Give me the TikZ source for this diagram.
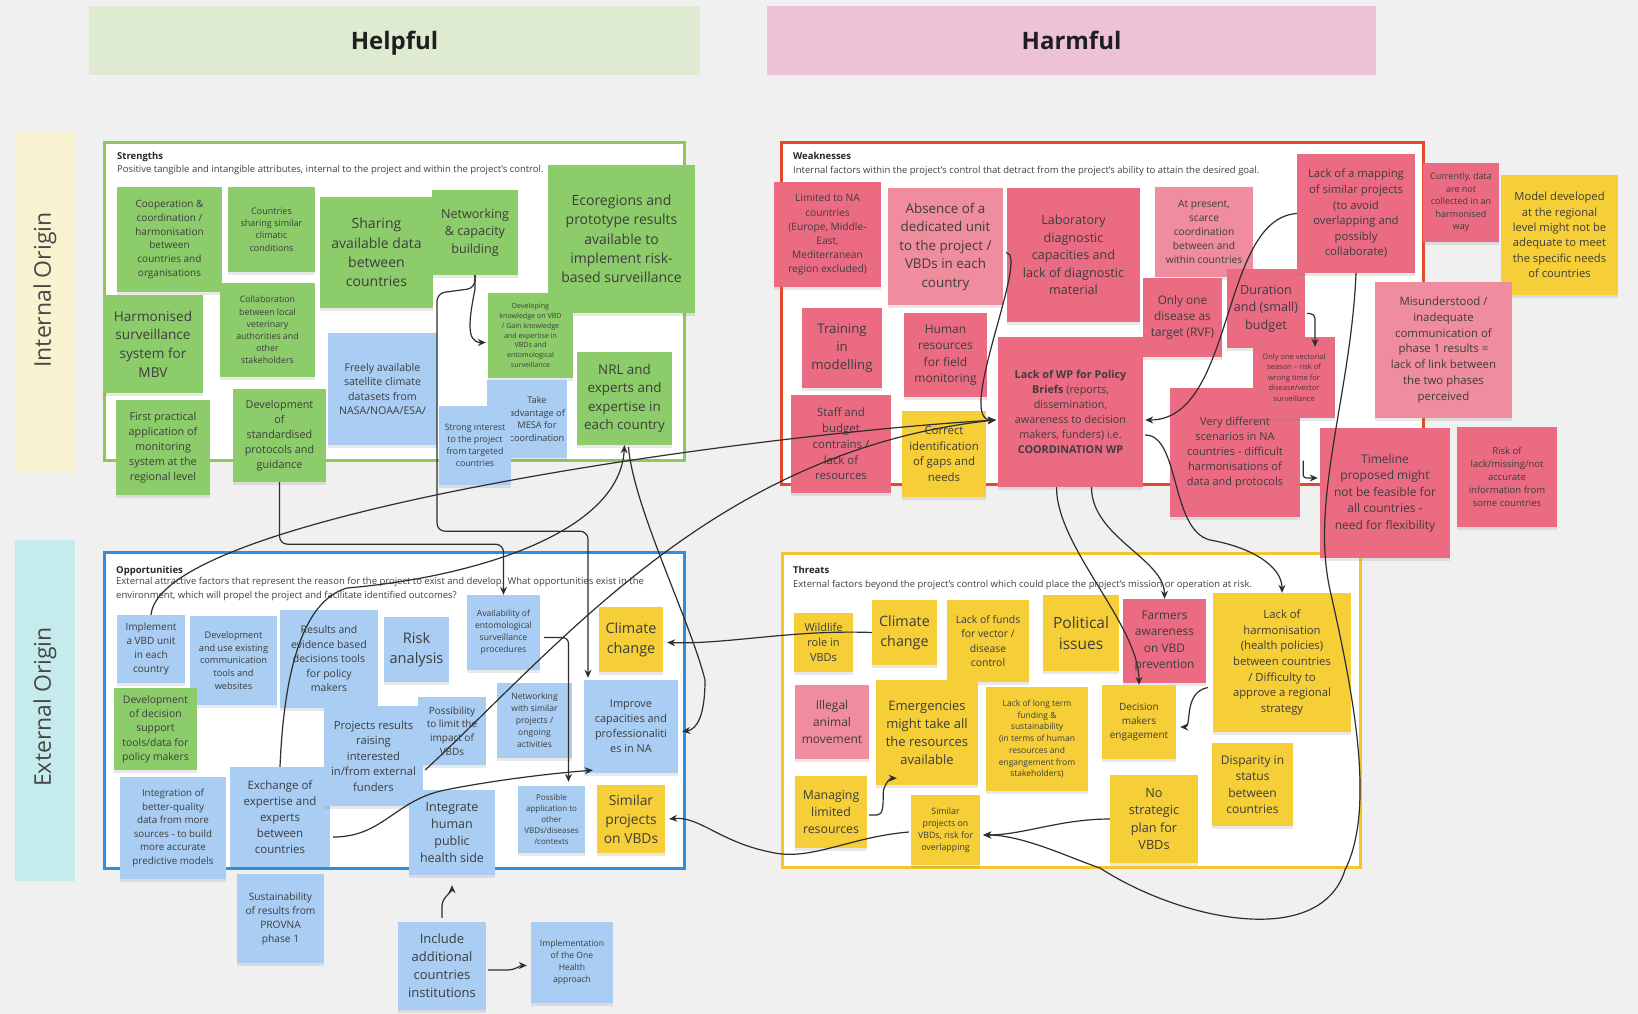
\documentclass[tikz,border=0pt]{standalone}
\usepackage{fontspec}
\setmainfont{Open Sans}
\usetikzlibrary{arrows.meta,calc,shadows}

\definecolor{bgc}{HTML}{F0F0F0}
\definecolor{hgreen}{HTML}{DEEBD0}
\definecolor{hpink}{HTML}{EDC2D6}
\definecolor{bandyel}{HTML}{F7F3D1}
\definecolor{bandcyan}{HTML}{C6EBEC}
\definecolor{frgreen}{HTML}{8DC85A}
\definecolor{frred}{HTML}{E4482D}
\definecolor{frblue}{HTML}{2E8EE0}
\definecolor{fryel}{HTML}{F3C62E}
\definecolor{ngreen}{HTML}{8DCC6A}
\definecolor{nblue}{HTML}{A9CDF3}
\definecolor{npink}{HTML}{EA6B82}
\definecolor{nlpink}{HTML}{EF8C9D}
\definecolor{nyel}{HTML}{F5CE38}
\definecolor{ntext}{HTML}{3D3D3D}
\definecolor{lnc}{HTML}{2E2E2E}

\tikzset{
  slot/.style n args={4}{minimum width=#3, minimum height=#4, at={({#1+#3/2},{#2+#4/2})}},
  fz/.code={\pgfmathsetmacro\fzskip{1.38*#1}%
    \edef\fznext{\noexpand\pgfkeysalso{font=\noexpand\fontsize{#1}{\fzskip}\noexpand\selectfont}}\fznext},
  sticky/.style={inner sep=1pt, align=center, text=ntext,
    drop shadow={shadow xshift=0pt, shadow yshift=-3pt, opacity=0.18}},
  gnote/.style={sticky, fill=ngreen},
  bnote/.style={sticky, fill=nblue},
  pnote/.style={sticky, fill=npink},
  lnote/.style={sticky, fill=nlpink},
  ynote/.style={sticky, fill=nyel},
  hdr/.style={inner sep=0pt, text height=19pt, text depth=1pt, text=black!88, font=\fontsize{24}{28}\selectfont\bfseries},
  orig/.style={inner sep=0pt, text=black!72, font=\fontsize{23}{27}\selectfont},
  frm/.style={line width=3pt, fill=white, inner sep=0pt},
  ttl/.style={anchor=base west, inner sep=0pt, text=black!85, font=\fontsize{9.5}{11}\selectfont\bfseries},
  dsc/.style={anchor=base west, inner sep=0pt, align=left, text=black!75, font=\fontsize{9.5}{13.5}\selectfont},
  link/.style={->, draw=lnc, line width=1.2pt},
}

\begin{document}
\begin{tikzpicture}[x=1pt, y=-1pt, >={Stealth[length=8pt,width=7pt]}]
\fill[bgc] (0,0) rectangle (1638,1014);
\useasboundingbox (0,0) rectangle (1638,1014);

\node[hdr, fill=hgreen, slot={89}{6}{611}{69}] (helpful) {Helpful};
\node[hdr, fill=hpink, slot={767}{6}{609}{69}] (harmful) {Harmful};
\node[fill=bandyel, inner sep=0pt, slot={15}{131}{60}{341}] (intband) {};
\node[fill=bandcyan, inner sep=0pt, slot={15}{540}{60}{341}] (extband) {};
\node[orig, rotate=90] (intlbl) at (45,290) {Internal Origin};
\node[orig, rotate=90] (extlbl) at (45,707) {External Origin};

\node[frm, draw=frgreen, slot={104}{143}{580}{317}] (fS) {};
\node[ttl] (tS) at (117,159.5) {Strengths};
\node[dsc] (dS) at (117,172) {Positive tangible and intangible attributes, internal to the project and within the project's control.};
\node[frm, draw=frred, slot={781}{143}{642}{341}] (fW) {};
\node[ttl] (tW) at (793,160) {Weaknesses};
\node[dsc] (dW) at (793,173.5) {Internal factors within the project's control that detract from the project's ability to attain the desired goal.};
\node[frm, draw=frblue, slot={104}{552}{580}{316}] (fO) {};
\node[ttl] (tO) at (116,573) {Opportunities};
\node[dsc, anchor=north west] (dO) at (116,577.5) {External attractive factors that represent the reason for the project to exist and develop. What opportunities exist in the\\environment, which will propel the project and facilitate identified outcomes?};
\node[frm, draw=fryel, slot={782}{553}{578}{314}] (fT) {};
\node[ttl] (tT) at (793,573) {Threats};
\node[dsc] (dT) at (793,587) {External factors beyond the project's control which could place the project's mission or operation at risk.};

\node[gnote, fz=10, slot={117}{187}{105}{105}] (s1) {Cooperation \&\\coordination /\\harmonisation\\between\\countries and\\organisations};
\node[gnote, fz=9, slot={228}{187}{87}{85}] (s2) {Countries\\sharing similar\\climatic\\conditions};
\node[gnote, fz=14, slot={320}{197}{113}{111}] (s3) {Sharing\\available data\\between\\countries};
\node[gnote, fz=13.6, slot={103}{295}{100}{98}] (s4) {Harmonised\\surveillance\\system for\\MBV};
\node[gnote, fz=8.8, slot={220}{283}{95}{94}] (s5) {Collaboration\\between local\\veterinary\\authorities and\\other\\stakeholders};
\node[bnote, fz=10.6, slot={328}{333}{109}{112}] (s6) {Freely available\\satellite climate\\datasets from\\NASA/NOAA/ESA/};
\node[gnote, fz=10.8, slot={116}{400}{94}{95}] (s7) {First practical\\application of\\monitoring\\system at the\\regional level};
\node[gnote, fz=10.8, slot={233}{389}{93}{93}] (s8) {Development\\of\\standardised\\protocols and\\guidance};
\node[gnote, fz=12.6, slot={432}{190}{86}{85}] (s9) {Networking\\\& capacity\\building};
\node[gnote, fz=14, slot={548}{165}{147}{148}] (s10) {Ecoregions and\\prototype results\\available to\\implement risk-\\based surveillance};
\node[gnote, fz=7.1, slot={488}{293}{85}{85}] (s11) {Developing\\knowledge on VBD\\/ Gain knowledge\\and expertise in\\VBDs and\\entomological\\surveillance};
\node[bnote, slot={487}{380}{80}{78}] (s12) {};
\node[fz=9.2, text=ntext, align=center, inner sep=0pt] (s12txt) at ($(s12.center)+(10,0)$) {Take\\advantage of\\MESA for\\coordination};
\node[bnote, fz=8.8, slot={439}{406}{72}{79}] (s13) {Strong interest\\to the project\\from targeted\\countries};
\node[gnote, fz=13.4, slot={577}{352}{95}{93}] (s14) {NRL and\\experts and\\expertise in\\each country};

\node[pnote, fz=10.2, slot={774}{182}{107}{105}] (w1) {Limited to NA\\countries\\(Europe, Middle-\\East,\\Mediterranean\\region excluded)};
\node[lnote, fz=13.4, slot={888}{188}{115}{117}] (w2) {Absence of a\\dedicated unit\\to the project /\\VBDs in each\\country};
\node[pnote, fz=12.6, slot={1007}{188}{133}{134}] (w3) {Laboratory\\diagnostic\\capacities and\\lack of diagnostic\\material};
\node[pnote, fz=13.2, slot={802}{308}{80}{80}] (w4) {Training\\in\\modelling};
\node[pnote, fz=12, slot={904}{313}{83}{84}] (w5) {Human\\resources\\for field\\monitoring};
\node[pnote, fz=11.4, slot={791}{395}{100}{98}] (w6) {Staff and\\budget\\contrains /\\lack of\\resources};
\node[ynote, fz=11.4, slot={902}{411}{84}{86}] (w7) {Correct\\identification\\of gaps and\\needs};
\node[pnote, fz=10.8, slot={998}{337}{145}{150}] (w8) {\textbf{Lack of WP for Policy}\\\textbf{Briefs} (reports,\\dissemination,\\awareness to decision\\makers, funders) i.e.\\\textbf{COORDINATION WP}};
\node[lnote, fz=10.2, slot={1155}{187}{98}{90}] (w9) {At present,\\scarce\\coordination\\between and\\within countries};
\node[pnote, fz=11.8, slot={1143}{278}{79}{79}] (w13) {Only one\\disease as\\target (RVF)};
\node[pnote, fz=12.6, slot={1227}{269}{78}{79}] (w14) {Duration\\and (small)\\budget};
\node[pnote, fz=11.3, slot={1297}{154}{118}{119}] (w10) {Lack of a mapping\\of similar projects\\(to avoid\\overlapping and\\possibly\\collaborate)};
\node[pnote, fz=9, slot={1423}{163}{76}{79}] (w11) {Currently, data\\are not\\collected in an\\harmonised\\way};
\node[ynote, fz=11.2, slot={1501}{175}{117}{120}] (w12) {Model developed\\at the regional\\level might not be\\adequate to meet\\the specific needs\\of countries};
\node[pnote, fz=11, slot={1170}{388}{130}{129}] (w16) {Very different\\scenarios in NA\\countries - difficult\\harmonisations of\\data and protocols};
\node[pnote, fz=7.5, slot={1253}{337}{82}{81}] (w15) {Only one vectorial\\season -- risk of\\wrong time for\\disease/vector\\surveillance};
\node[lnote, fz=11.4, slot={1375}{282}{137}{136}] (w17) {Misunderstood /\\inadequate\\communication of\\phase 1 results =\\lack of link between\\the two phases\\perceived};
\node[pnote, fz=12, slot={1320}{428}{130}{130}] (w18) {Timeline\\proposed might\\not be feasible for\\all countries -\\need for flexibility};
\node[pnote, fz=9.5, slot={1457}{427}{100}{100}] (w19) {Risk of\\lack/missing/not\\accurate\\information from\\some countries};

\node[bnote, fz=10, slot={117}{615}{68}{68}] (o1) {Implement\\a VBD unit\\in each\\country};
\node[bnote, fz=9.2, slot={190}{616}{87}{89}] (o2) {Development\\and use existing\\communication\\tools and\\websites};
\node[bnote, fz=10.5, slot={280}{610}{98}{98}] (o3) {Results and\\evidence based\\decisions tools\\for policy\\makers};
\node[bnote, fz=14.6, slot={384}{617}{65}{65}] (o4) {Risk\\analysis};
\node[gnote, fz=10.4, slot={114}{688}{83}{82}] (o5) {Development\\of decision\\support\\tools/data for\\policy makers};
\node[bnote, fz=10, slot={418}{697}{68}{68}] (o10) {Possibility\\to limit the\\impact of\\VBDs};
\node[bnote, fz=11.5, slot={230}{767}{100}{100}] (o7) {Exchange of\\expertise and\\experts\\between\\countries};
\node[bnote, fz=11.2, slot={324}{706}{99}{100}] (o6) {Projects results\\raising\\interested\\in/from external\\funders};
\node[bnote, fz=9.8, slot={120}{777}{106}{102}] (o8) {Integration of\\better-quality\\data from more\\sources - to build\\more accurate\\predictive models};
\node[bnote, fz=8.6, slot={467}{595}{73}{75}] (o11) {Availability of\\entomological\\surveillance\\procedures};
\node[ynote, fz=14.4, slot={599}{607}{64}{65}] (o12) {Climate\\change};
\node[bnote, fz=8.6, slot={497}{683}{75}{75}] (o13) {Networking\\with similar\\projects /\\ongoing\\activities};
\node[bnote, fz=10.9, slot={584}{680}{94}{93}] (o14) {Improve\\capacities and\\professionaliti\\es in NA};
\node[bnote, fz=12.5, slot={409}{790}{86}{85}] (o15) {Integrate\\human\\public\\health side};
\node[bnote, fz=8, slot={518}{786}{67}{67}] (o16) {Possible\\application to\\other\\VBDs/diseases\\/contexts};
\node[ynote, fz=13.8, slot={597}{785}{68}{68}] (o17) {Similar\\projects\\on VBDs};
\node[bnote, fz=10.2, slot={237}{874}{87}{89}] (o9) {Sustainability\\of results from\\PROVNA\\phase 1};
\node[bnote, fz=13, slot={398}{922}{88}{88}] (o18) {Include\\additional\\countries\\institutions};
\node[bnote, fz=8.6, slot={531}{922}{82}{81}] (o19) {Implementation\\of the One\\Health\\approach};

\node[ynote, fz=11, slot={794}{613}{59}{59}] (t1) {Wildlife\\role in\\VBDs};
\node[ynote, fz=14.3, slot={872}{600}{65}{65}] (t2) {Climate\\change};
\node[ynote, fz=10.4, slot={947}{600}{82}{82}] (t3) {Lack of funds\\for vector /\\disease\\control};
\node[ynote, fz=15.5, slot={1043}{595}{76}{76}] (t4) {Political\\issues};
\node[lnote, fz=12, slot={795}{685}{74}{74}] (t5) {Illegal\\animal\\movement};
\node[ynote, fz=13, slot={876}{680}{102}{105}] (t6) {Emergencies\\might take all\\the resources\\available};
\node[ynote, fz=8.5, slot={986}{687}{102}{104}] (t7) {Lack of long term\\funding \&\\sustainability\\(in terms of human\\resources and\\engangement from\\stakeholders)};
\node[ynote, fz=12.3, slot={795}{776}{72}{72}] (t8) {Managing\\limited\\resources};
\node[ynote, fz=8.8, slot={911}{795}{69}{70}] (t9) {Similar\\projects on\\VBDs, risk for\\overlapping};
\node[pnote, fz=11.9, slot={1123}{599}{83}{84}] (t10) {Farmers\\awareness\\on VBD\\prevention};
\node[ynote, fz=11.3, slot={1213}{593}{138}{139}] (t11) {Lack of\\harmonisation\\(health policies)\\between countries\\/ Difficulty to\\approve a regional\\strategy};
\node[ynote, fz=10, slot={1102}{685}{74}{74}] (t12) {Decision\\makers\\engagement};
\node[ynote, fz=12, slot={1212}{743}{81}{83}] (t13) {Disparity in\\status\\between\\countries};
\node[ynote, fz=12.7, slot={1110}{775}{88}{88}] (t14) {No\\strategic\\plan for\\VBDs};

\draw[link] (s9.south) -- ++(0,14) .. controls +(-6,30) and +(-20,0) .. ($(s11.west)+(-2,7)$);
\draw[link, rounded corners=8] (s9.south) -- ++(0,13) -- ++(-38,5) -- ++(0,238) -| ($(o14.north)+(-43,-2)$);
\draw[link, rounded corners=8] (s8.south) -- ++(0,62) -| (o11.north);
\draw[link] (o1.north) .. controls +(10,-100) and +(-250,15) .. ($(w8.west)+(-2,8)$);
\draw[link] ($(o6.east)+(2,14)$) .. controls +(135,-125) and +(-280,30) .. ($(w8.west)+(-2,8)$);
\draw[link] ($(w2.east)+(3,6)$) .. controls +(24,2) and +(-41,0) .. ($(w8.west)+(-2,8)$);
\draw[link] (w10.west) .. controls +(-77,5) and +(90,0) .. ($(w8.east)+(2,8)$);
\draw[link] (o7.north) .. controls +(5,-120) and +(-35,10) .. (347,588) .. controls +(120,-10) and +(-5,90) .. (s14.south);
\draw[link] ($(s14.south)+(4,2)$) .. controls +(5,60) and +(-15,-60) .. (705,680) .. controls +(0,35) and +(15,-2) .. ($(o14.east)+(4,5)$);
\draw[link, rounded corners=6] ($(o11.east)+(4,5)$) -| ($(o16.north)+(17,-4)$);
\draw[link] ($(o7.east)+(3,20)$) .. controls +(50,0) and +(-50,10) .. (445,790) .. controls +(50,-10) and +(-40,3) .. ($(o14.south west)+(9,-3)$);
\draw[link] ($(o18.north)+(0,-4)$) -- ++(0,-12) .. controls +(0,-8) and +(0,6) .. ($(o15.south)+(0,10)$);
\draw[link] ($(o18.east)+(2,4)$) -- ++(20,0) .. controls +(6,0) and +(-6,0) .. ($(o19.west)+(-4,3)$);
\draw[link] (t2.west) .. controls +(-80,-3) and +(60,2) .. ($(o12.east)+(4,3)$);
\draw[link] ($(t8.east)+(2,3)$) -- ++(8,0) .. controls +(6,0) and +(0,12) .. ++(6,-22) .. controls +(0,-6) and +(-8,0) .. ($(t6.south west)+(21,-7)$);
\draw[link] (t14.west) .. controls +(-50,0) and +(40,0) .. ($(t9.east)+(3,5)$);
\draw[link] ($(t9.west)+(-2,2)$) .. controls +(-60,5) and +(40,10) .. (770,852) .. controls +(-50,-10) and +(30,-3) .. ($(o17.east)+(4,0)$);
\draw[link] ($(t11.west)+(-5,25)$) .. controls +(-25,5) and +(12,0) .. ($(t12.east)+(4,5)$);
\draw[link, rounded corners=5] ($(w14.east)+(2,5)$) -| ($(w15.north)+(21,10)$);
\draw[link, rounded corners=3] ($(w16.east)+(3,8)$) |- ($(w18.west)+(-2,-15)$);
\draw[link] ($(w8.east)+(2,23)$) .. controls +(35,0) and +(-40,-10) .. (1210,540) .. controls +(45,8) and +(0,-25) .. (t11.north);
\draw[link] ($(w8.south)+(21,0)$) .. controls +(0,50) and +(0,-40) .. (t10.north);
\draw[link] ($(w8.south)+(-14,0)$) .. controls +(0,60) and +(0,-60) .. (t12.north);
\draw[link] (w10.south) .. controls +(-5,120) and +(-20,-90) .. (1330,590) .. controls +(25,110) and +(30,-60) .. (1345,870) .. controls +(-25,80) and +(80,52) .. (1100,868) .. controls +(-30,-10) and +(40,0) .. ($(t9.east)+(3,5)$);
\end{tikzpicture}
\end{document}
